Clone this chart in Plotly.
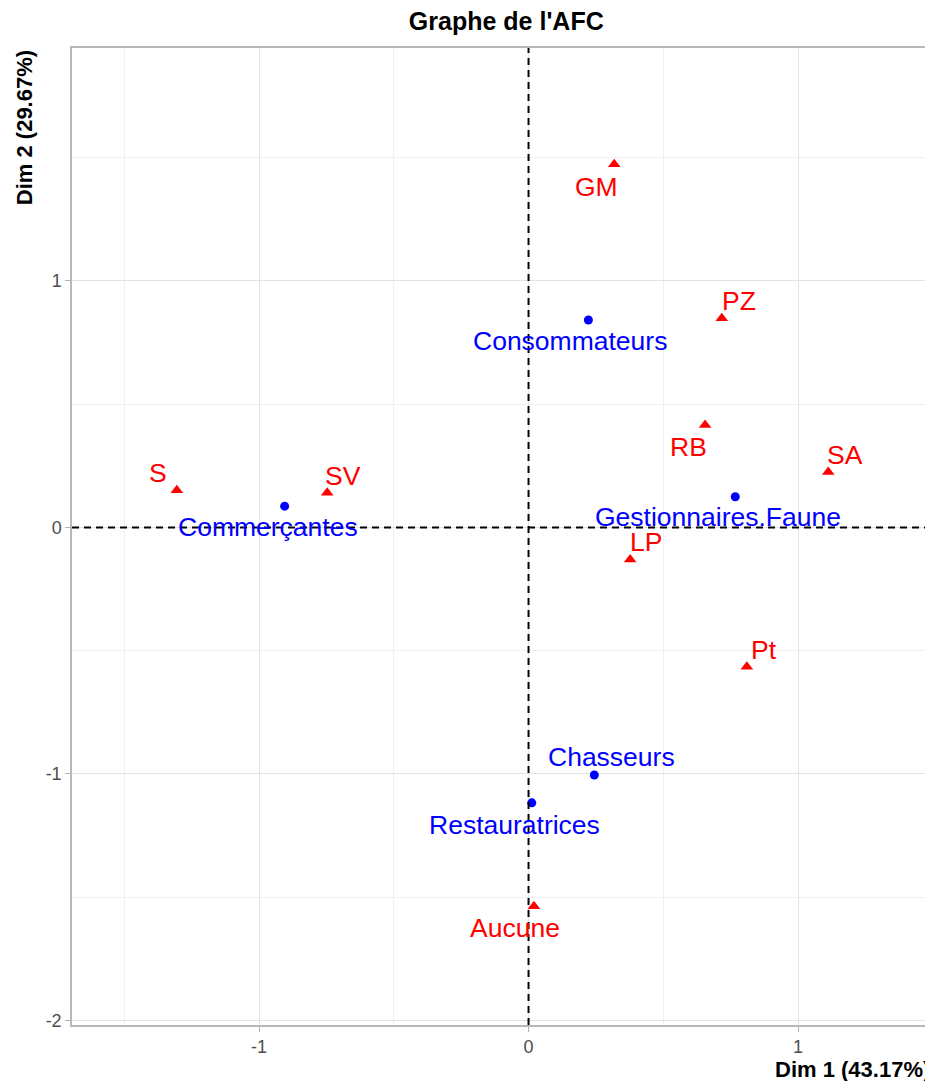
import plotly.graph_objects as go

# Row points (blue circles)
row_names = ["Consommateurs", "Gestionnaires.Faune", "Commerçantes", "Chasseurs", "Restauratrices"]
row_dim1 = [0.222, 0.767, -0.905, 0.244, 0.012]
row_dim2 = [0.841, 0.124, 0.086, -1.004, -1.117]

# Column points (red triangles)
col_names = ["GM", "PZ", "RB", "SA", "LP", "Pt", "S", "SV", "Aucune"]
col_dim1 = [0.318, 0.717, 0.655, 1.112, 0.377, 0.810, -1.305, -0.747, 0.020]
col_dim2 = [1.473, 0.848, 0.415, 0.225, -0.130, -0.565, 0.151, 0.140, -1.536]

x_ticks = [-1, 0, 1]
y_ticks = [-2, -1, 0, 1]

# label offsets (pixels, repel-like placement)
label_shift = {
    "Consommateurs": (-18, -21), "Gestionnaires.Faune": (-17, -20), "Commerçantes": (-17, -21),
    "Chasseurs": (17, 18), "Restauratrices": (-17, -22),
    "GM": (-18, -23), "PZ": (17, 17), "RB": (-17, -22), "SA": (17, 17), "LP": (16, 17),
    "Pt": (17, 17), "S": (-19, 17), "SV": (16, 17), "Aucune": (-19, -22),
}

FONT = "Liberation Sans, Arial, sans-serif"
fig = go.Figure()

fig.add_trace(go.Scatter(x=row_dim1, y=row_dim2, mode="markers",
                         marker=dict(symbol="circle", size=9, color="#0000FF"),
                         showlegend=False, hoverinfo="text", text=row_names))
fig.add_trace(go.Scatter(x=col_dim1, y=col_dim2, mode="markers",
                         marker=dict(symbol="triangle-up", size=11, color="#FF0000"),
                         showlegend=False, hoverinfo="text", text=col_names))

anns = []
for n, x, y in zip(row_names, row_dim1, row_dim2):
    dx, dy = label_shift[n]
    anns.append(dict(x=x, y=y, xref="x", yref="y", text=n, showarrow=False,
                     xshift=dx, yshift=dy, font=dict(family=FONT, size=26.5, color="#0000FF")))
for n, x, y in zip(col_names, col_dim1, col_dim2):
    dx, dy = label_shift[n]
    anns.append(dict(x=x, y=y, xref="x", yref="y", text=n, showarrow=False,
                     xshift=dx, yshift=dy, font=dict(family=FONT, size=26.5, color="#FF0000")))

# axis titles (ggplot style: x at right, y at top)
anns.append(dict(x=1, y=-0.031, xref="paper", yref="paper", xanchor="right", yanchor="top",
                 text="<b>Dim 1 (43.17%)</b>", showarrow=False,
                 font=dict(family=FONT, size=22, color="black")))
anns.append(dict(x=-0.055, y=1, xref="paper", yref="paper", xanchor="center", yanchor="top",
                 text="<b>Dim 2 (29.67%)</b>", showarrow=False, textangle=-90,
                 font=dict(family=FONT, size=22, color="black")))

shapes = [
    dict(type="line", xref="x", yref="paper", x0=0, x1=0, y0=0, y1=1, layer="above",
         line=dict(color="black", width=2, dash="7px,5px")),
    dict(type="line", xref="paper", yref="y", x0=0, x1=1, y0=0, y1=0, layer="above",
         line=dict(color="black", width=2, dash="7px,5px")),
]

axis_common = dict(
    showgrid=True, gridcolor="#E3E3E3", gridwidth=1,
    minor=dict(dtick=0.5, showgrid=True, gridcolor="#F0F0F0", gridwidth=1),
    zeroline=False, showline=True, mirror=True, linecolor="#B8B8B8", linewidth=1.5,
    ticks="outside", ticklen=5, tickcolor="#B3B3B3", tickwidth=1,
    tickfont=dict(family=FONT, size=18, color="#4D4D4D"),
    automargin=False,
)

# page body has an 8px margin, so the figure is sized/offset to compensate
fig.update_layout(
    width=925, height=1073,
    margin=dict(l=64, r=1, t=40, b=56, autoexpand=False),
    paper_bgcolor="white", plot_bgcolor="white",
    title=dict(text="<b>Graphe de l'AFC</b>", x=0.505, xref="paper", xanchor="center",
               y=0.988, yref="container", yanchor="middle",
               font=dict(family=FONT, size=25, color="black")),
    xaxis=dict(range=[-1.694, 1.497], tickvals=x_ticks, ticktext=[str(v) for v in x_ticks], **axis_common),
    yaxis=dict(range=[-2.018, 1.944], tickvals=y_ticks, ticktext=[str(v) for v in y_ticks], **axis_common),
    annotations=anns,
    shapes=shapes,
)

fig.write_html("out.html")
